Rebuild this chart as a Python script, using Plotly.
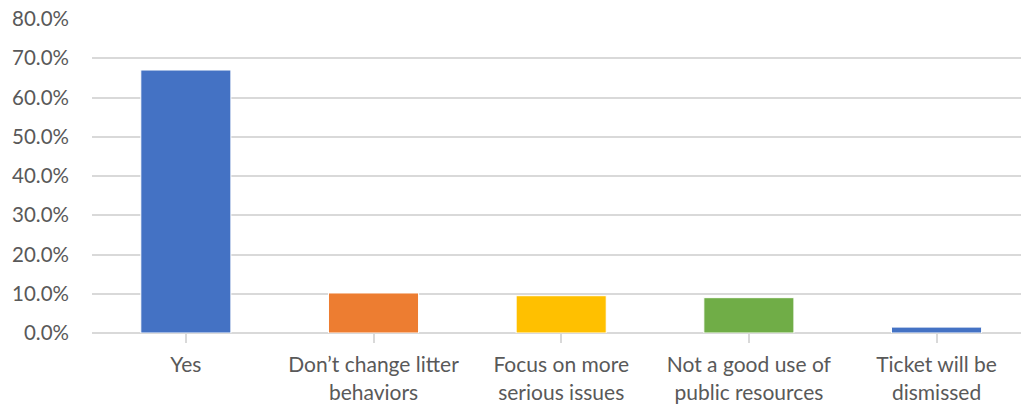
import plotly.graph_objects as go

categories = ["Yes", "Don’t change litter<br>behaviors", "Focus on more<br>serious issues",
              "Not a good use of<br>public resources", "Ticket will be<br>dismissed"]
values = [0.670, 0.102, 0.095, 0.090, 0.015]
colors = ["#4472C4", "#ED7D31", "#FFC000", "#70AD47", "#4472C4"]
y_ticks = [0, 0.1, 0.2, 0.3, 0.4, 0.5, 0.6, 0.7, 0.8]

fig = go.Figure(go.Bar(
    x=list(range(len(categories))), y=values,
    marker=dict(color=colors, line=dict(color="white", width=1)),
    width=0.48,
))

xfont = dict(family="Lato, Carlito, Calibri, sans-serif", size=21, color="#595959")
yfont = dict(family="Lato, Carlito, Calibri, sans-serif", size=20.5, color="#595959")
fig.update_layout(
    width=1021, height=404,
    margin=dict(l=92, r=0, t=19, b=71),
    plot_bgcolor="white", paper_bgcolor="white",
    showlegend=False, font=xfont,
    xaxis=dict(
        tickmode="array", tickvals=list(range(len(categories))), ticktext=categories,
        range=[-0.5, 4.45], showgrid=False, zeroline=False,
        showline=False, ticks="outside", tickson="boundaries", ticklen=9,
        tickcolor="#d9d9d9", tickwidth=1.5, tickfont=xfont, ticklabelstandoff=4,
    ),
    yaxis=dict(
        range=[0, 0.8], tickvals=y_ticks, tickformat=".1%",
        showgrid=True, gridcolor="#d9d9d9", gridwidth=1.5,
        zeroline=True, zerolinecolor="#d9d9d9", zerolinewidth=1.5,
        showline=False, ticks="", tickfont=yfont, ticklabelstandoff=22,
    ),
)
fig.write_html("out.html")
